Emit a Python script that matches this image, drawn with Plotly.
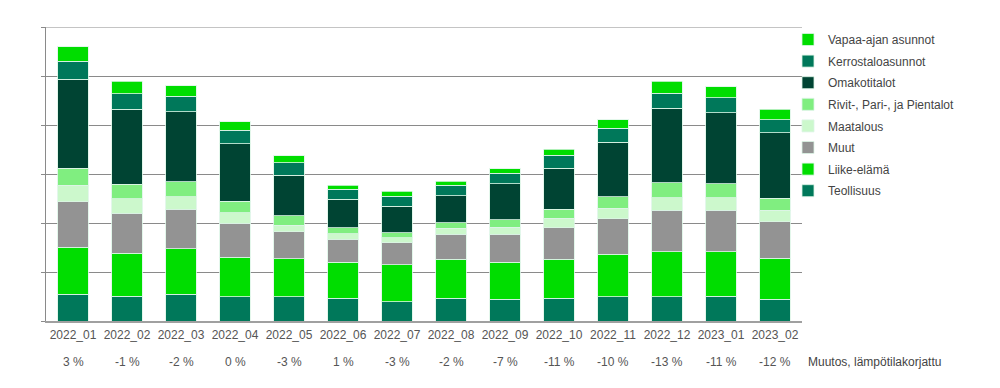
import plotly.graph_objects as go

kuukaudet = ["2022_01", "2022_02", "2022_03", "2022_04", "2022_05", "2022_06", "2022_07",
             "2022_08", "2022_09", "2022_10", "2022_11", "2022_12", "2023_01", "2023_02"]

teollisuus = [54.4, 50.3, 54.4, 49.0, 49.0, 46.9, 39.5, 46.9, 44.9, 46.9, 49.0, 49.0, 51.0, 44.9]
liike_elama = [96.6, 87.8, 93.2, 81.6, 77.6, 72.8, 74.8, 79.6, 74.8, 79.6, 87.1, 92.5, 90.5, 83.0]
muut = [92.5, 81.6, 80.3, 69.4, 55.8, 47.6, 44.9, 50.3, 57.1, 63.9, 72.1, 84.4, 84.4, 74.8]
maatalous = [34.0, 29.9, 25.9, 21.1, 12.9, 10.9, 10.2, 12.2, 15.0, 19.0, 22.4, 25.9, 25.9, 23.1]
rivitalot = [34.0, 29.9, 29.9, 23.1, 19.0, 12.2, 10.9, 11.6, 15.0, 19.0, 23.1, 29.9, 27.9, 25.2]
omakotitalot = [182.0, 153.0, 142.9, 117.7, 83.0, 57.8, 54.4, 55.1, 73.5, 83.7, 111.6, 153.0, 144.9, 133.3]
kerrostalot = [36.7, 31.3, 32.0, 27.9, 25.2, 21.1, 20.4, 21.8, 21.1, 26.5, 27.9, 30.6, 31.3, 26.5]
vapaa_ajan = [29.3, 25.9, 21.8, 17.0, 14.3, 8.2, 10.2, 8.2, 9.5, 11.6, 17.7, 24.5, 21.8, 21.8]

muutos = [3, -1, -2, 0, -3, 1, -3, -2, -7, -11, -10, -13, -11, -12]
muutos_otsikko = "Muutos, lämpötilakorjattu"

sarjat = [
    ("Teollisuus", teollisuus, "#00785a"),
    ("Liike-elämä", liike_elama, "#00dd00"),
    ("Muut", muut, "#939393"),
    ("Maatalous", maatalous, "#ccf8cc"),
    ("Rivit-, Pari-, ja Pientalot", rivitalot, "#80ee80"),
    ("Omakotitalot", omakotitalot, "#004433"),
    ("Kerrostaloasunnot", kerrostalot, "#00785a"),
    ("Vapaa-ajan asunnot", vapaa_ajan, "#00dd00"),
]

Y_MAX = 600

# figure sits inside the page body (8 px margin)
W, H = 992, 380
PL, PR, PT, PB = 38, 794, 19, 313

fig = go.Figure()
for i, (nimi, arvot, vari) in enumerate(sarjat):
    fig.add_trace(go.Bar(
        x=kuukaudet, y=arvot, name=nimi, legendgroup=f"g{i}", legendrank=100 - i,
        marker=dict(color=vari, line=dict(color="rgba(220,245,230,0.8)", width=1)),
        width=0.56,
    ))

ypct = (PB - 354) / (PB - PT)
for k, m in zip(kuukaudet, muutos):
    fig.add_annotation(x=k, xref="x", y=ypct, yref="paper", text=f"{m} %",
                       showarrow=False, yanchor="middle",
                       font=dict(family="Liberation Sans, Arial", size=12, color="#555555"))
fig.add_annotation(x=(798 - PL) / (PR - PL), xref="paper", y=ypct, yref="paper", text=muutos_otsikko,
                   showarrow=False, xanchor="left", yanchor="middle",
                   font=dict(family="Liberation Sans, Arial", size=12, color="#444444"))

# top gridline (plotly omits the grid line at the range edge)
fig.add_shape(type="line", xref="paper", x0=0, x1=1, yref="y", y0=Y_MAX, y1=Y_MAX,
              line=dict(color="#8a8a8a", width=1), layer="below")

fig.update_layout(
    width=W, height=H,
    margin=dict(l=PL, r=W - PR, t=PT, b=H - PB),
    barmode="stack",
    plot_bgcolor="white", paper_bgcolor="white",
    font=dict(family="Liberation Sans, Arial", size=12, color="#555555"),
    showlegend=True,
    legend=dict(traceorder="grouped", tracegroupgap=2.6, x=(780 - PL) / (PR - PL), xanchor="left",
                y=1.0 + 2 / (PB - PT), yanchor="top", font=dict(size=12, color="#444444"),
                bgcolor="rgba(0,0,0,0)"),
    xaxis=dict(showline=True, linecolor="#a0a0a0", linewidth=2, ticks="outside",
               ticklen=2, tickcolor="rgba(0,0,0,0)", tickfont=dict(size=12, color="#555555")),
    yaxis=dict(range=[0, Y_MAX], dtick=100, showgrid=True, gridcolor="#8a8a8a", gridwidth=1,
               showticklabels=False, ticks="outside", ticklen=4, tickcolor="#8a8a8a",
               showline=True, linecolor="#8a8a8a", linewidth=1, zeroline=False),
)

fig.write_html("out.html")
